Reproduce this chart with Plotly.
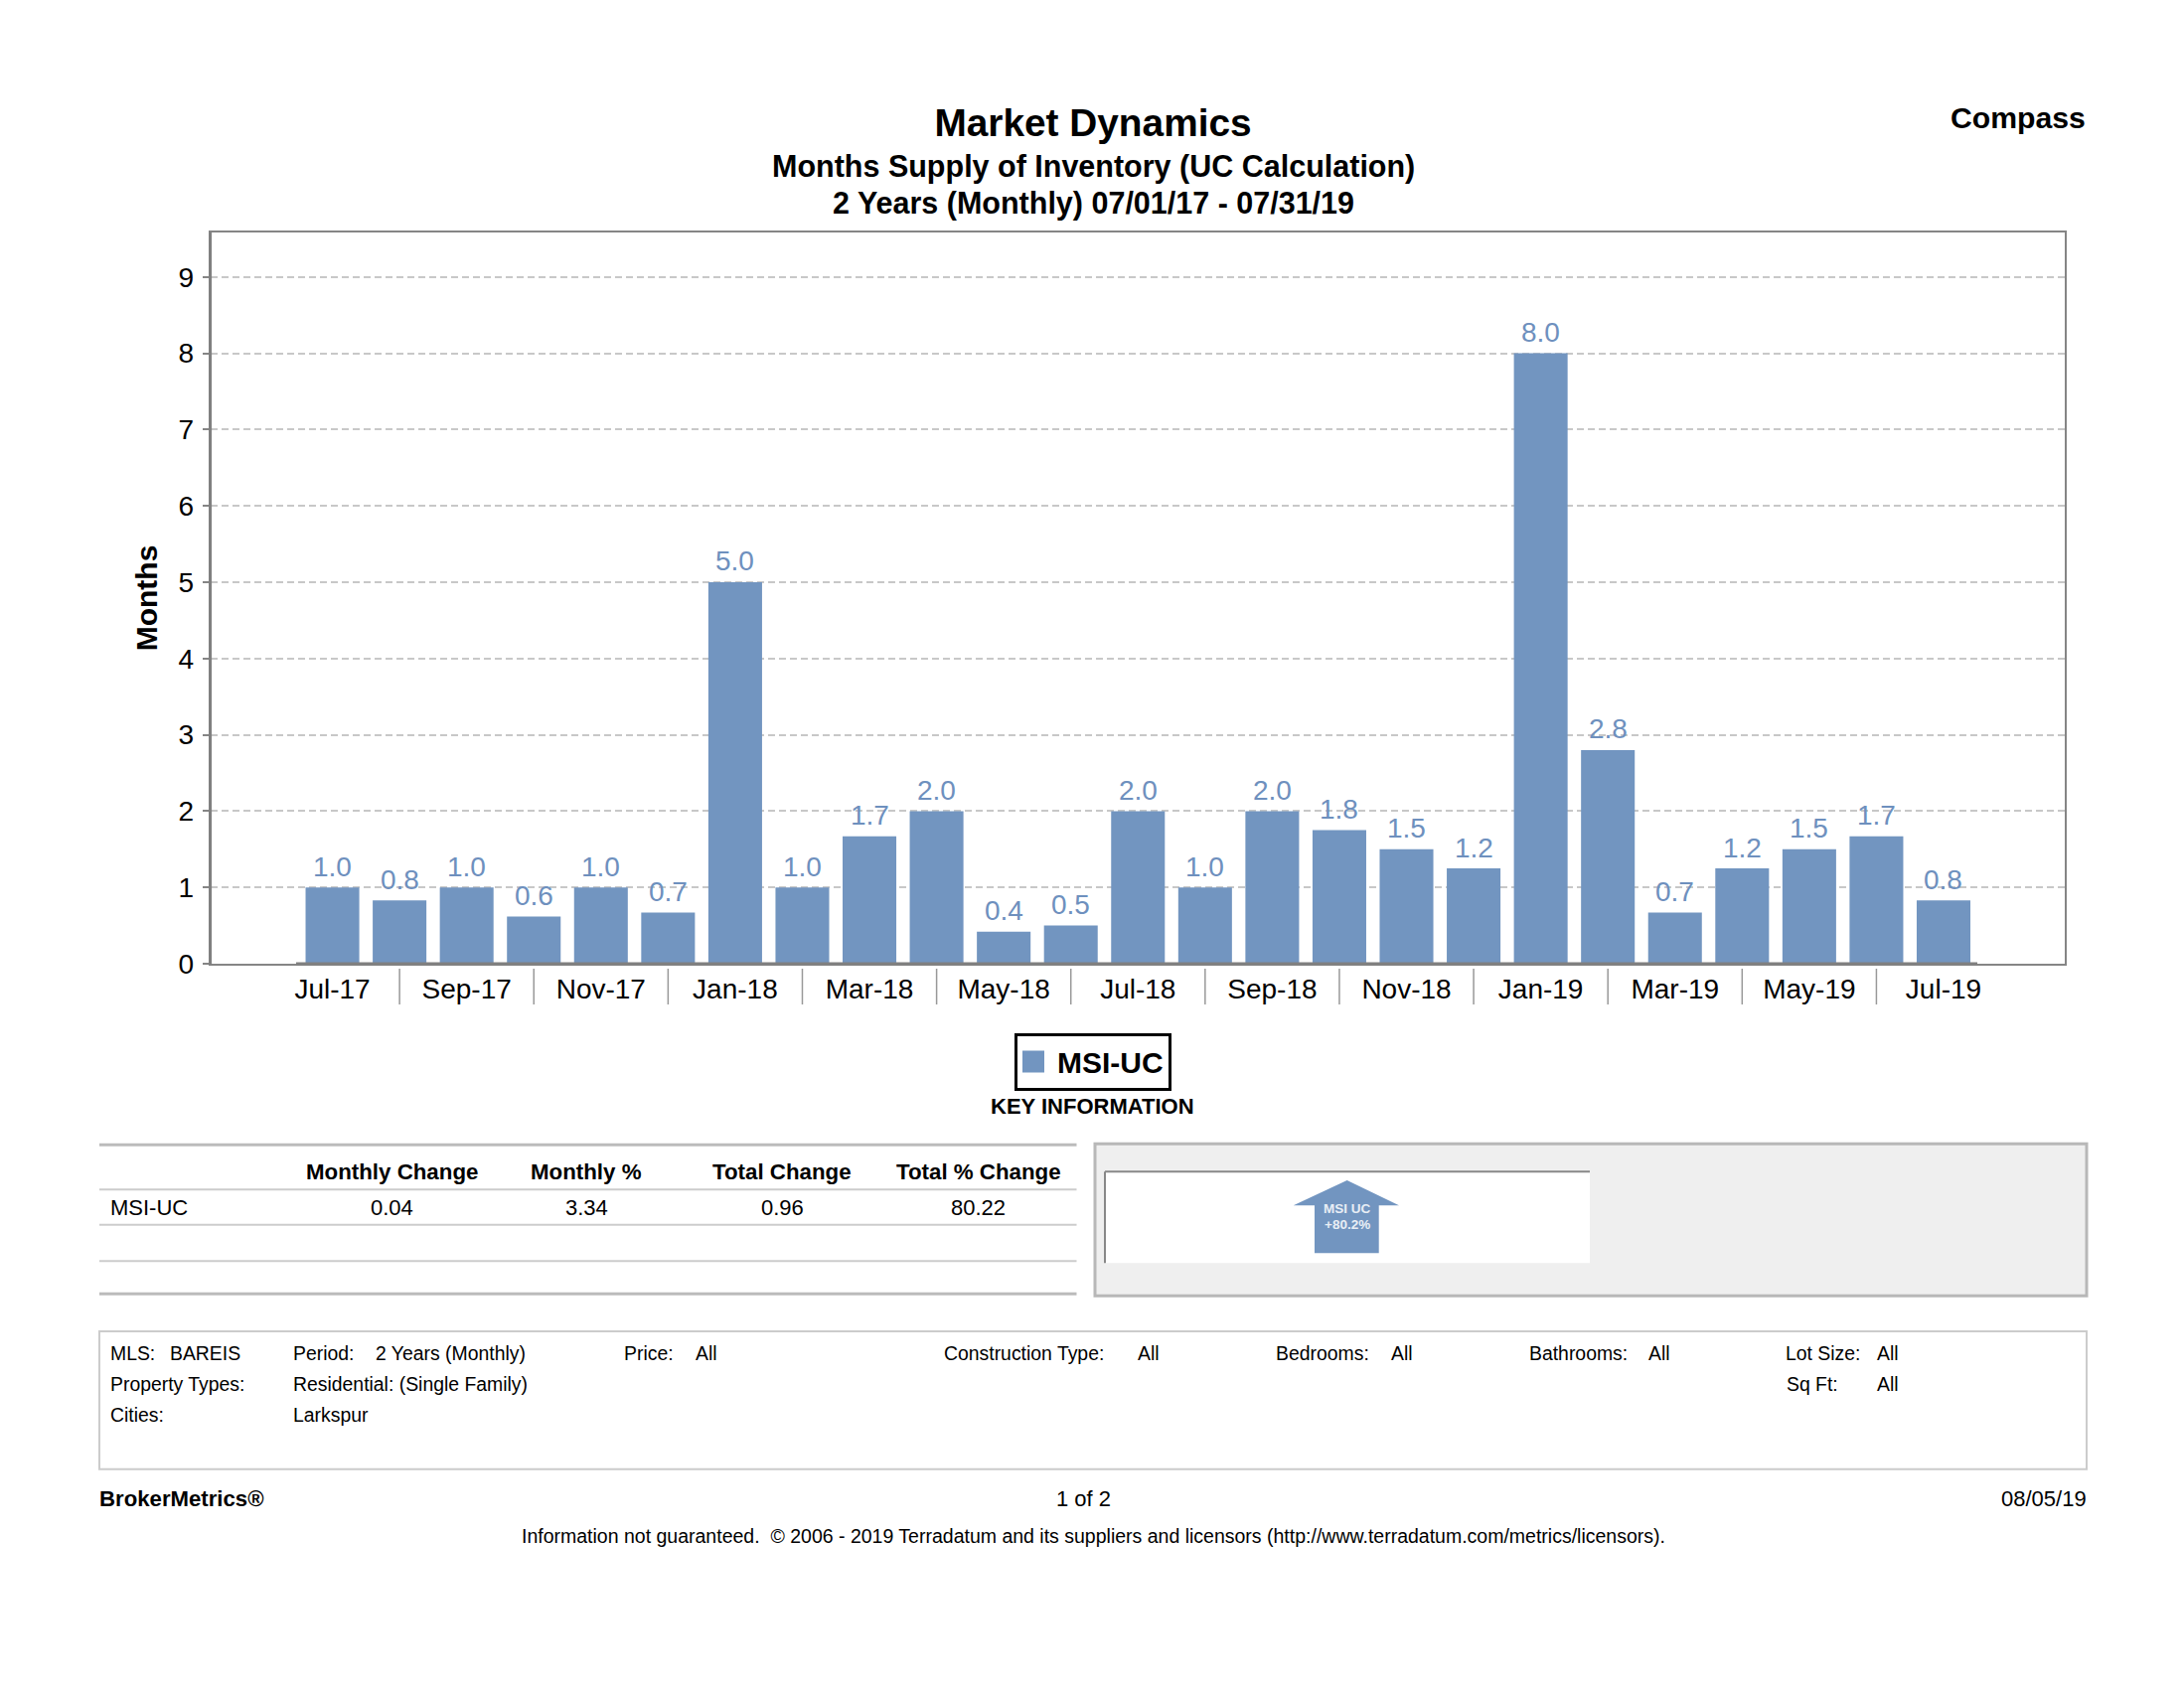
import plotly.graph_objects as go

months = ["Jul-17","Aug-17","Sep-17","Oct-17","Nov-17","Dec-17","Jan-18","Feb-18","Mar-18","Apr-18","May-18","Jun-18",
          "Jul-18","Aug-18","Sep-18","Oct-18","Nov-18","Dec-18","Jan-19","Feb-19","Mar-19","Apr-19","May-19","Jun-19","Jul-19"]
msi_uc = [1.0,0.83,1.0,0.62,1.0,0.67,5.0,1.0,1.67,2.0,0.42,0.5,2.0,1.0,2.0,1.75,1.5,1.25,8.0,2.8,0.67,1.25,1.5,1.67,0.83]
bar_labels = ["1.0","0.8","1.0","0.6","1.0","0.7","5.0","1.0","1.7","2.0","0.4","0.5","2.0","1.0","2.0","1.8","1.5","1.2","8.0","2.8","0.7","1.2","1.5","1.7","0.8"]
y_ticks = [0,1,2,3,4,5,6,7,8,9]

table_headers = ["Monthly Change","Monthly %","Total Change","Total % Change"]
table_row_name = "MSI-UC"
table_row = ["0.04","3.34","0.96","80.22"]

W, H = 2198, 1700
FONT = "Liberation Sans"
BLUE = "#7295C0"
LABEL = "#6E90BE"
BLACK = "#000000"
AXIS = "#858585"

def px(x): return x / W
def py(y): return 1 - y / H
def ly(y): return y + 1.2 if y > 1100 else y   # shapes of the block below the chart
def ty(y): return y + 0.6 if y > 1100 else y   # texts of the block below the chart

annotations, shapes = [], []

def text(x, y, s, size=22, anchor="left", color=BLACK, bold=False):
    shift = {"left": -1, "right": 1.2, "center": 0}[anchor]
    annotations.append(dict(x=px(x), y=py(ty(y)), xref="paper", yref="paper", xshift=shift,
                            text=f"<b>{s}</b>" if bold else s,
                            showarrow=False, xanchor=anchor, yanchor="middle", borderpad=0,
                            font=dict(family=FONT, size=size, color=color)))

def rect(x0, y0, x1, y1, fill="rgba(0,0,0,0)", line="rgba(0,0,0,0)", w=0):
    shapes.append(dict(type="rect", xref="paper", yref="paper", x0=px(x0), x1=px(x1), y0=py(ly(y0)), y1=py(ly(y1)),
                       fillcolor=fill, line=dict(color=line, width=w)))

def hline(x0, x1, y, color, w):
    shapes.append(dict(type="line", xref="paper", yref="paper", x0=px(x0), x1=px(x1), y0=py(ly(y)), y1=py(ly(y)),
                       line=dict(color=color, width=w)))

def vline(x, y0, y1, color, w):
    shapes.append(dict(type="line", xref="paper", yref="paper", x0=px(x), x1=px(x), y0=py(ly(y0)), y1=py(ly(y1)),
                       line=dict(color=color, width=w)))

# bar value labels, placed from the data
for m, v, lab in zip(months, msi_uc, bar_labels):
    annotations.append(dict(x=m, y=v, xref="x", yref="y", yshift=21, text=lab, showarrow=False,
                            xanchor="center", yanchor="middle", borderpad=0,
                            font=dict(family=FONT, size=28, color=LABEL)))

# separators between the x labels
for m in months[1::2]:
    shapes.append(dict(type="line", xref="x", yref="paper", x0=m, x1=m, y0=py(975), y1=py(1011),
                       line=dict(color="#999999", width=1.5)))

# heavier left axis and baseline
vline(211.6, 234, 971, "#808080", 3)
hline(298, 1990, 970, "#808080", 3)

# titles
text(1100, 167, "Months Supply of Inventory (UC Calculation)", 30.5, "center", bold=True)
text(1100, 204, "2 Years (Monthly) 07/01/17 - 07/31/19", 30.5, "center", bold=True)
text(2099, 118.5, "Compass", 30.2, "right", bold=True)
text(1099, 1113, "KEY INFORMATION", 22, "center", bold=True)

# table
for y, w, c in [(1151, 3, "#BBBBBB"), (1196, 2, "#CCCCCC"), (1231.5, 2, "#CCCCCC"), (1268, 2, "#CCCCCC"), (1301, 3, "#BBBBBB")]:
    hline(100, 1083.5, y, c, w)
col_x = [394, 590, 787, 984.5]
for x, h, v in zip(col_x, table_headers, table_row):
    text(x, 1179, h, 22.3, "center", bold=True)
    text(x, 1215, v, 22, "center")
text(111, 1215, table_row_name, 22)

# grey panel with arrow
rect(1102, 1150, 2100, 1303, "#EFEFEF", "#B8B8B8", 3)
rect(1112, 1178, 1600, 1270, "#FFFFFF")
hline(1112, 1600, 1178, "#888888", 2)
vline(1112, 1178, 1270, "#888888", 2)
arrow = [(1355.7,1186.7),(1408,1212),(1387.7,1212),(1387.7,1260),(1323,1260),(1323,1212),(1301.7,1212)]
shapes.append(dict(type="path", xref="paper", yref="paper", fillcolor=BLUE, line=dict(width=0),
                   path="M" + " L".join(f"{px(a)},{py(ly(b))}" for a, b in arrow) + " Z"))
text(1355.5, 1215.5, "MSI UC", 13.5, "center", "#E8EEF5", True)
text(1355.5, 1231.5, "+80.2%", 13.5, "center", "#E8EEF5", True)

# filter box
rect(100, 1338.7, 2100, 1477.6, "#FFFFFF", "#CCCCCC", 2)
r1, r2, r3 = 1361.7, 1392.6, 1423.6
for x, y, s in [(111,r1,"MLS:"),(170.5,r1,"BAREIS"),(294.7,r1,"Period:"),(377.5,r1,"2 Years (Monthly)"),
                (628,r1,"Price:"),(700,r1,"All"),(950,r1,"Construction Type:"),(1144.8,r1,"All"),
                (1283.5,r1,"Bedrooms:"),(1400.4,r1,"All"),(1539,r1,"Bathrooms:"),(1658.8,r1,"All"),
                (1796.8,r1,"Lot Size:"),(1889,r1,"All"),
                (111,r2,"Property Types:"),(294.7,r2,"Residential: (Single Family)"),(1797.5,r2,"Sq Ft:"),(1889,r2,"All"),
                (111,r3,"Cities:"),(294.7,r3,"Larkspur")]:
    text(x, y, s, 19.4)

# footer
text(100, 1507.8, "BrokerMetrics®", 22.2, bold=True)
text(1090.6, 1507.8, "1 of 2", 22, "center")
text(2100, 1507.8, "08/05/19", 22, "right")
text(1100, 1545.3, "Information not guaranteed.  © 2006 - 2019 Terradatum and its suppliers and licensors (http://www.terradatum.com/metrics/licensors).", 19.5, "center")

fig = go.Figure(go.Bar(x=months, y=msi_uc, name="MSI-UC", marker=dict(color=BLUE, line=dict(width=0)), hoverinfo="x+y"))

fig.update_layout(
    width=W, height=H, margin=dict(l=0, r=0, t=0, b=0), autosize=False,
    paper_bgcolor="#FFFFFF", plot_bgcolor="#FFFFFF", bargap=0.2,
    font=dict(family=FONT, color=BLACK),
    title=dict(text="<b>Market Dynamics</b>", x=px(1100), xanchor="center", y=py(123), yanchor="middle",
               font=dict(family=FONT, size=38.8, color=BLACK)),
    showlegend=True,
    legend=dict(x=px(1100), y=py(1068.5), xanchor="center", yanchor="middle", bordercolor=BLACK, borderwidth=3,
                bgcolor="#FFFFFF", font=dict(family=FONT, size=30, color=BLACK, weight=700), itemclick=False, itemdoubleclick=False),
    xaxis=dict(domain=[px(211.6), px(2077.6)], range=[-1.82, 25.80], type="category", automargin=False,
               categoryorder="array", categoryarray=months,
               tickmode="array", tickvals=months[::2], ticktext=months[::2], ticks="", showgrid=False, zeroline=False,
               showline=True, mirror=True, linecolor=AXIS, linewidth=2, ticklabelstandoff=-1,
               tickfont=dict(family=FONT, size=28, color=BLACK)),
    yaxis=dict(domain=[py(970), py(234)], range=[0, 9.583], automargin=False, tickmode="array", tickvals=y_ticks,
               ticks="outside", ticklen=6, tickcolor=AXIS, tickwidth=2,
               showgrid=True, gridcolor="#C8C8C8", gridwidth=1.5, griddash="7px,4px", zeroline=False,
               showline=True, mirror=True, linecolor=AXIS, linewidth=2, ticklabelstandoff=3,
               tickfont=dict(family=FONT, size=28, color=BLACK),
               title=dict(text="<b>Months</b>", standoff=12, font=dict(family=FONT, size=30, color=BLACK))),
    shapes=shapes, annotations=annotations,
)

fig.write_html("out.html", config=dict(displayModeBar=False),
               post_script="document.body.style.margin='0';document.body.style.overflow='hidden';"
                           "document.querySelectorAll('.legendpoints path').forEach(function(p){p.setAttribute('d','M7,11H-15V-11H7Z');});")
